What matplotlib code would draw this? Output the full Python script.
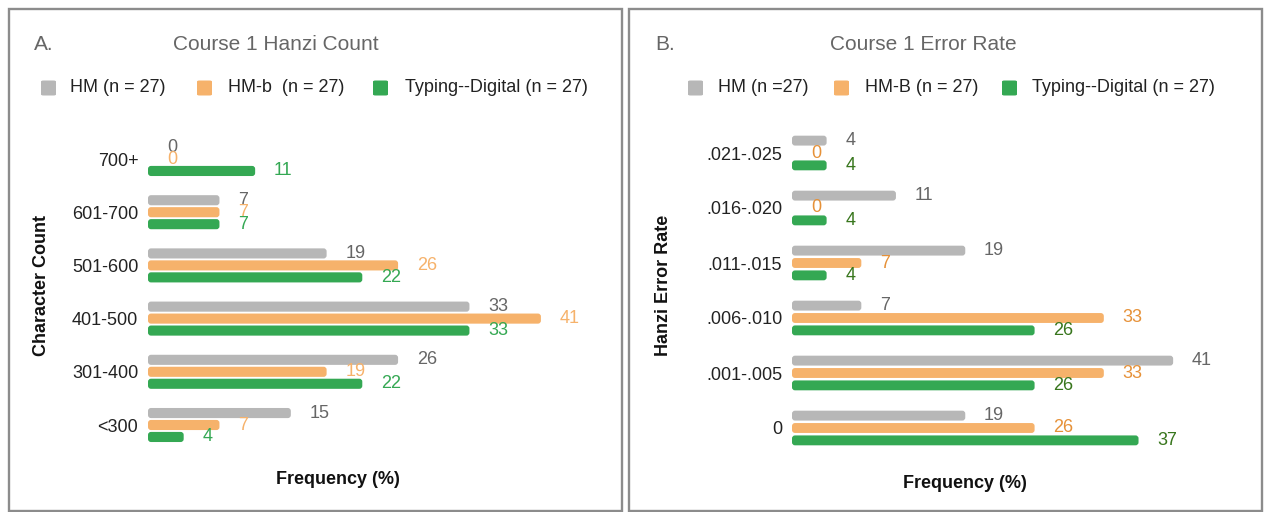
import numpy as np
import matplotlib
matplotlib.use("Agg")
import matplotlib.pyplot as plt
from matplotlib.patches import Rectangle, FancyBboxPatch

plt.rcParams['font.family'] = ['Liberation Sans', 'DejaVu Sans']

# panel A data (percent of n = 27)
cats_a = ['700+', '601-700', '501-600', '401-500', '301-400', '<300']
hm_a = [0, 7.41, 18.52, 33.33, 25.93, 14.81]
hmb_a = [0, 7.41, 25.93, 40.74, 18.52, 7.41]
typ_a = [11.11, 7.41, 22.22, 33.33, 22.22, 3.70]

# panel B data
cats_b = ['.021-.025', '.016-.020', '.011-.015', '.006-.010', '.001-.005', '0']
hm_b = [3.70, 11.11, 18.52, 7.41, 40.74, 18.52]
hmb_b = [0, 0, 7.41, 33.33, 33.33, 25.93]
typ_b = [3.70, 3.70, 3.70, 25.93, 25.93, 37.04]

leg_a = ['HM (n = 27)', 'HM-b  (n = 27)', 'Typing--Digital (n = 27)']
leg_b = ['HM (n =27)', 'HM-B (n = 27)', 'Typing--Digital (n = 27)']

GRAY, ORANGE, GREEN = '#b7b7b7', '#f6b26b', '#34a853'
TITLE_C = '#666666'

W, H = 1264, 512
fig = plt.figure(figsize=(W / 100, H / 100), dpi=100)


def fx(px):
    return px / W


def fy(py):
    return 1 - py / H


# panel frames
for x0, x1 in [(9, 622), (629, 1262)]:
    fig.patches.append(Rectangle((fx(x0), fy(511)), fx(x1 - x0), (511 - 9) / H,
                                 transform=fig.transFigure, fill=False,
                                 edgecolor='#8c8c8c', lw=1.7, zorder=0))


def panel(rect, cats, series, label_colors, xmax, bar_h):
    ax = fig.add_axes(rect)
    y = np.arange(len(cats))
    off = [-0.225, 0, 0.225]
    # pixel sizes of one data unit, for rounding the bar ends
    px_x = rect[2] * W / xmax
    px_y = rect[3] * H / len(cats)
    for vals, o, c, lc in zip(series, off, [GRAY, ORANGE, GREEN], label_colors):
        bars = ax.barh(y + o, vals, height=bar_h, color=c, zorder=2)
        for r in bars:
            if r.get_width() > 0:
                rad = min(3.0 / px_x, r.get_width() / 2)
                fb = FancyBboxPatch((r.get_x(), r.get_y()), r.get_width(), r.get_height(),
                                    boxstyle=f'round,pad=0,rounding_size={rad}',
                                    mutation_aspect=px_x / px_y,
                                    facecolor=c, edgecolor='none', zorder=2)
                ax.add_patch(fb)
            r.set_visible(False)
        for yi, v in zip(y, vals):
            ax.annotate(f"{round(v)}", (v, yi + o), xytext=(13.5, 0),
                        textcoords='offset points', va='center', ha='left',
                        fontsize=13, color=lc)
    ax.set_xlim(0, xmax)
    ax.set_ylim(len(cats) - 0.5, -0.5)
    ax.set_yticks(y)
    ax.set_yticklabels(cats, fontsize=13, color='#222222')
    ax.tick_params(axis='y', length=0, pad=7)
    ax.set_xticks([])
    for s in ax.spines.values():
        s.set_visible(False)
    ax.patch.set_alpha(0)
    return ax


def legend(items, xs, y):
    for (sx, tx), lab, c in zip(xs, items, [GRAY, ORANGE, GREEN]):
        fig.patches.append(FancyBboxPatch((fx(sx), fy(y + 7.5)), fx(15), 15 / H,
                                          boxstyle='round,pad=0,rounding_size=0.002',
                                          transform=fig.transFigure,
                                          facecolor=c, edgecolor='none'))
        fig.text(fx(tx), fy(y), lab, fontsize=13, color='#222222', va='center', ha='left')


# panel A
panel([fx(148), fy(451.6), fx(434), 319.2 / H], cats_a, [hm_a, hmb_a, typ_a],
      ['#666666', ORANGE, GREEN], 45, 0.19)
fig.text(fx(34), fy(45), 'A.', fontsize=15, color=TITLE_C, va='center')
fig.text(fx(276), fy(45), 'Course 1 Hanzi Count', fontsize=15, color=TITLE_C,
         va='center', ha='center')
legend(leg_a, [(41, 70), (197, 228), (373, 405)], 88)
fig.text(fx(42), fy(285), 'Character Count', rotation=90, fontsize=13,
         fontweight='bold', va='center', ha='center', color='#111111')
fig.text(fx(338), fy(479), 'Frequency (%)', fontsize=13, fontweight='bold',
         va='center', ha='center', color='#111111')

# panel B
panel([fx(792), fy(455.5), fx(421), 330 / H], cats_b, [hm_b, hmb_b, typ_b],
      ['#666666', '#e69138', '#38761d'], 45, 0.18)
fig.text(fx(655), fy(45), 'B.', fontsize=15, color=TITLE_C, va='center')
fig.text(fx(923), fy(45), 'Course 1 Error Rate', fontsize=15, color=TITLE_C,
         va='center', ha='center')
legend(leg_b, [(688, 718), (834, 865), (1002, 1032)], 88)
fig.text(fx(664), fy(285), 'Hanzi Error Rate', rotation=90, fontsize=13,
         fontweight='bold', va='center', ha='center', color='#111111')
fig.text(fx(965), fy(484), 'Frequency (%)', fontsize=13, fontweight='bold',
         va='center', ha='center', color='#111111')

fig.savefig('out.png', dpi=100, facecolor='white')
